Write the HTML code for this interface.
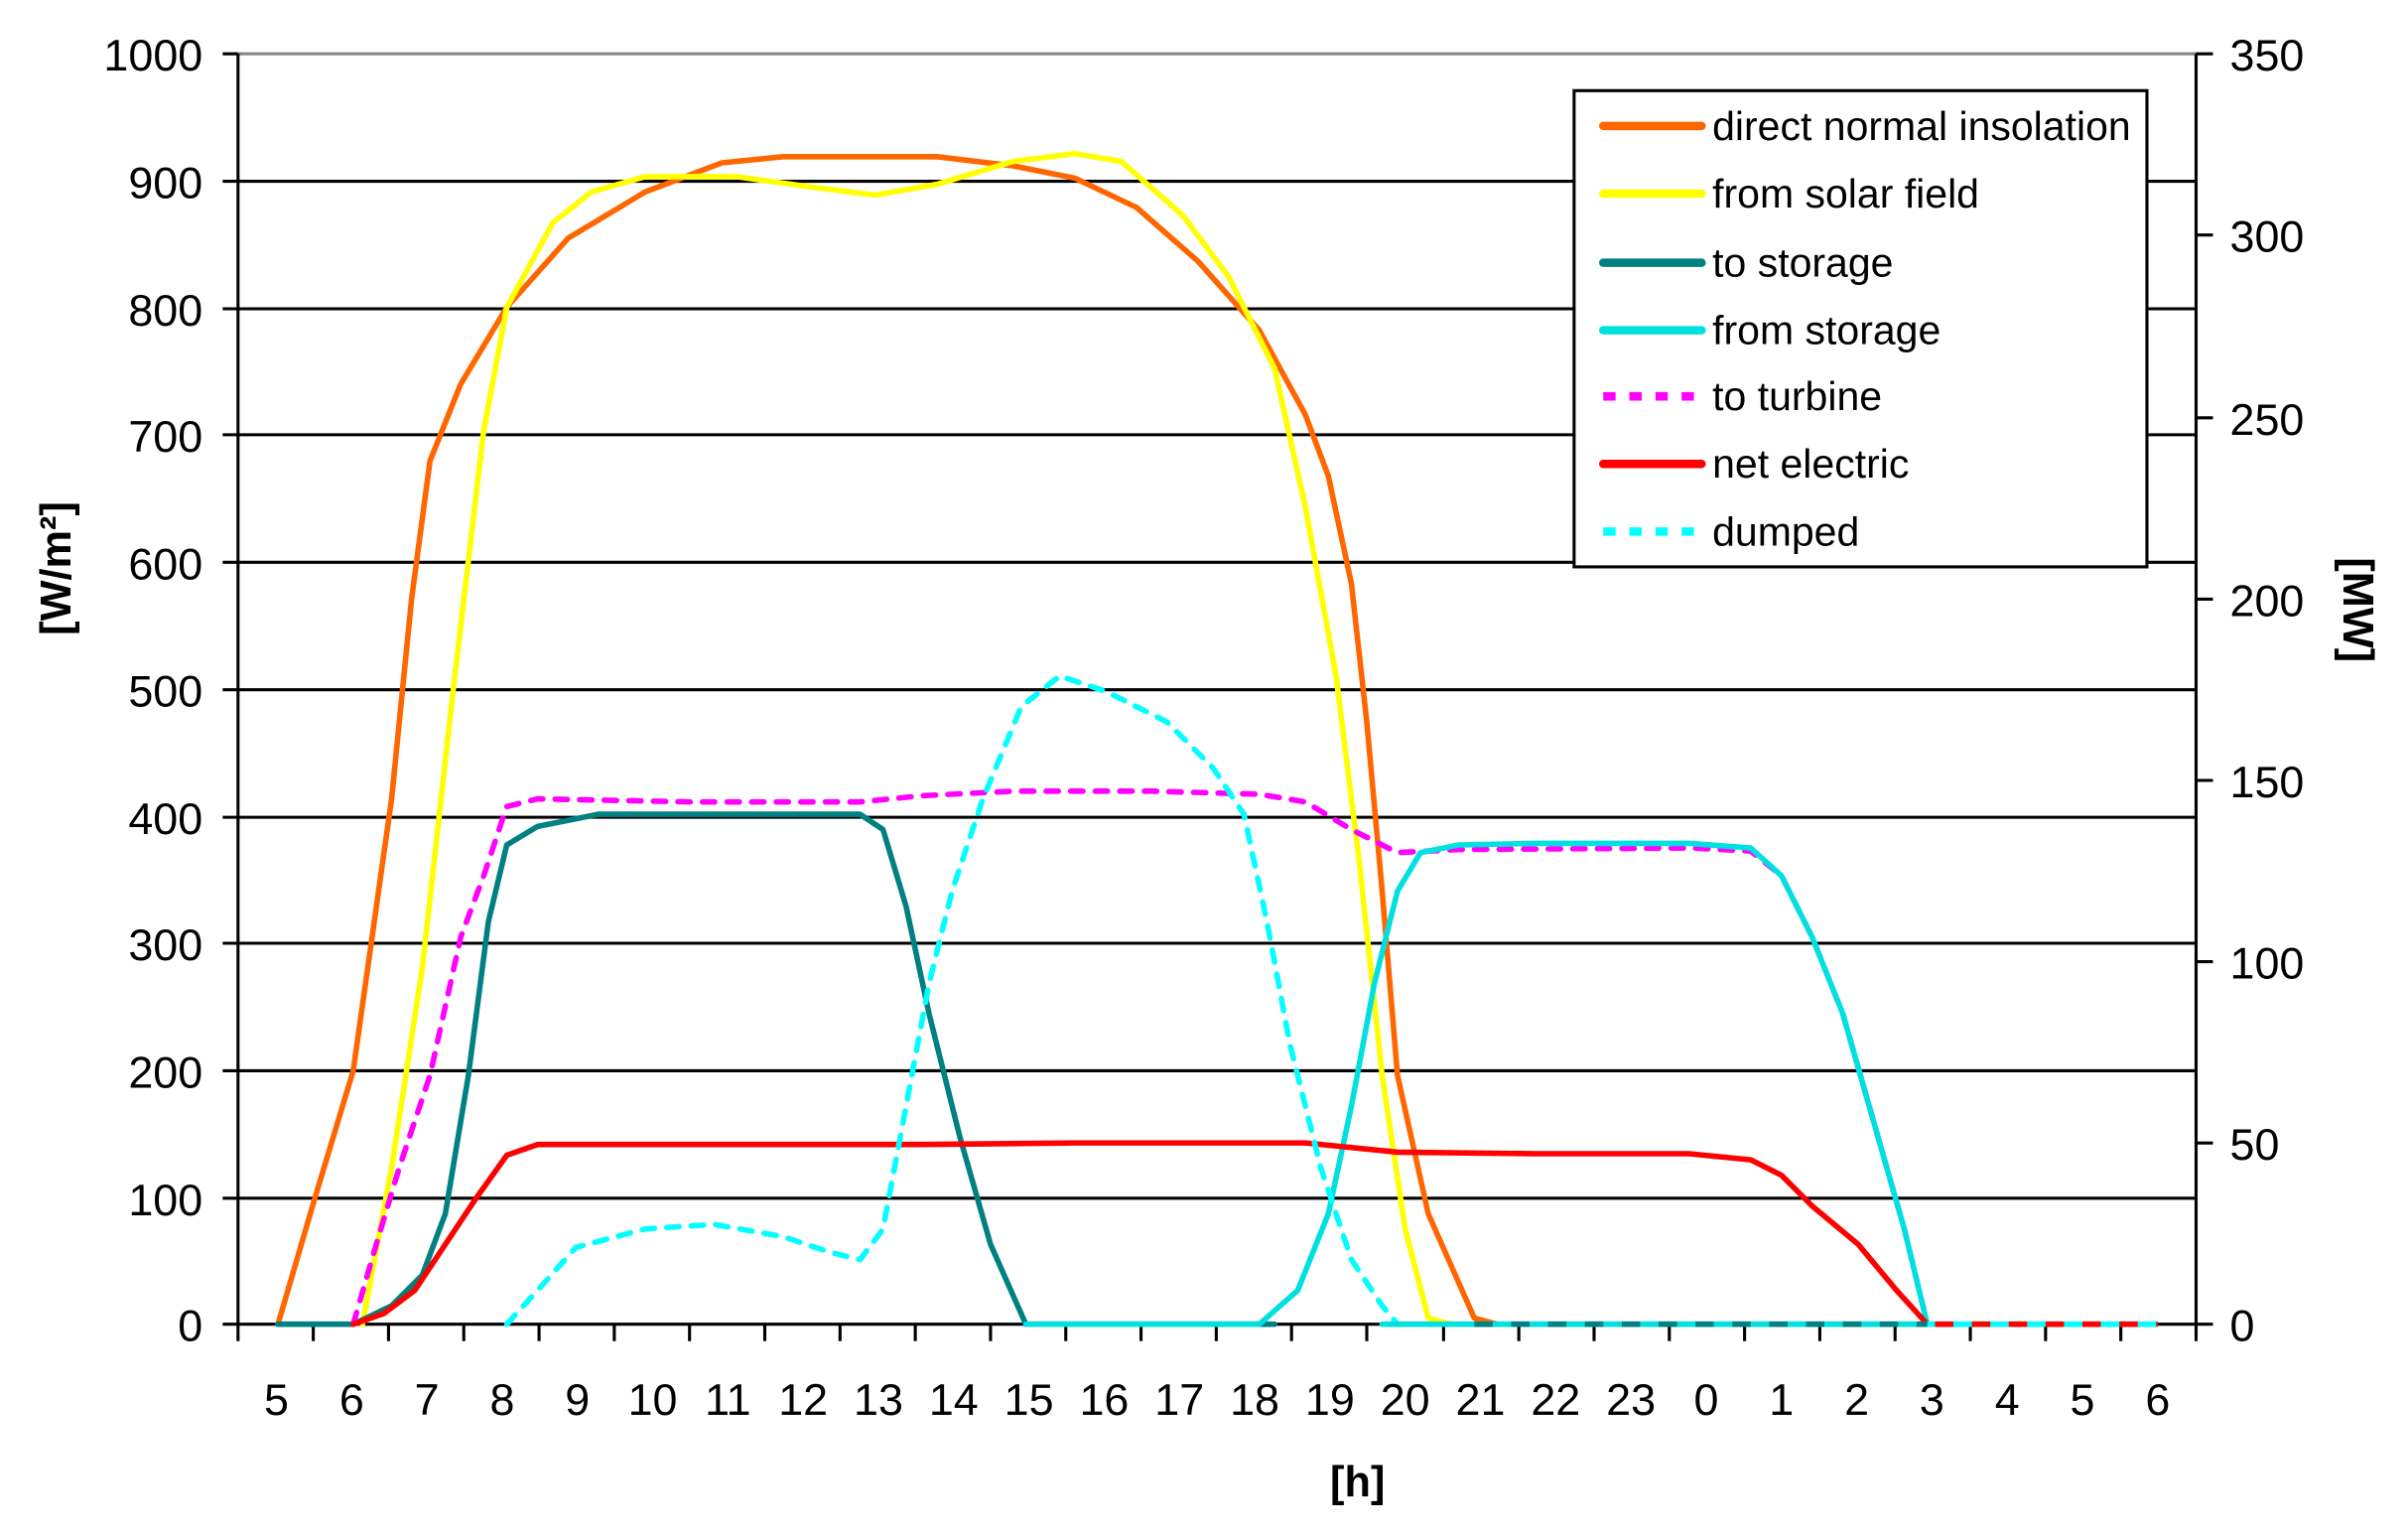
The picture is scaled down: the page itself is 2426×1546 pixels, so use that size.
<!DOCTYPE html>
<html><head><meta charset="utf-8"><style>html,body{margin:0;padding:0;background:#fff}svg{display:block}</style></head>
<body>
<svg width="2426" height="1546" viewBox="0 0 1568 999.2" preserveAspectRatio="none" xmlns="http://www.w3.org/2000/svg" font-family="Liberation Sans, Arial, sans-serif">
<rect width="1568" height="1000" fill="#fff"/>
<line x1="155" y1="35" x2="1430" y2="35" stroke="#888" stroke-width="2"/>
<g stroke="#000" stroke-width="2">
<line x1="155" y1="118" x2="1430" y2="118"/><line x1="155" y1="201" x2="1430" y2="201"/>
<line x1="155" y1="283" x2="1430" y2="283"/><line x1="155" y1="366" x2="1430" y2="366"/>
<line x1="155" y1="449" x2="1430" y2="449"/><line x1="155" y1="532" x2="1430" y2="532"/>
<line x1="155" y1="614" x2="1430" y2="614"/><line x1="155" y1="697" x2="1430" y2="697"/>
<line x1="155" y1="780" x2="1430" y2="780"/><line x1="155" y1="862" x2="1430" y2="862"/>
<line x1="155" y1="35" x2="155" y2="862"/><line x1="1430" y1="35" x2="1430" y2="862"/>
<path d="M145 35H155M145 118H155M145 201H155M145 283H155M145 366H155M145 449H155M145 532H155M145 614H155M145 697H155M145 780H155M145 862H155"/>
<path d="M1430 35H1441M1430 153H1441M1430 272H1441M1430 390H1441M1430 508H1441M1430 626H1441M1430 744H1441M1430 862H1441"/>
<path d="M155 862V873M204 862V873M253 862V873M302 862V873M351 862V873M400 862V873M449 862V873M498 862V873M547 862V873M596 862V873M645 862V873M694 862V873M743 862V873M792 862V873M841 862V873M890 862V873M940 862V873M989 862V873M1038 862V873M1087 862V873M1136 862V873M1185 862V873M1234 862V873M1283 862V873M1332 862V873M1381 862V873M1430 862V873"/>
</g>
<g font-size="29" fill="#000" text-anchor="end">
<text x="132" y="46">1000</text><text x="132" y="129">900</text><text x="132" y="212">800</text><text x="132" y="294">700</text><text x="132" y="377">600</text><text x="132" y="460">500</text><text x="132" y="543">400</text><text x="132" y="625">300</text><text x="132" y="708">200</text><text x="132" y="791">100</text><text x="132" y="873">0</text>
</g>
<g font-size="29" fill="#000" text-anchor="start">
<text x="1452" y="46">350</text><text x="1452" y="164">300</text><text x="1452" y="283">250</text><text x="1452" y="401">200</text><text x="1452" y="519">150</text><text x="1452" y="637">100</text><text x="1452" y="755">50</text><text x="1452" y="873">0</text>
</g>
<g font-size="29" fill="#000" text-anchor="middle">
<text x="180" y="921">5</text><text x="229" y="921">6</text><text x="278" y="921">7</text><text x="327" y="921">8</text><text x="376" y="921">9</text><text x="425" y="921">10</text><text x="474" y="921">11</text><text x="523" y="921">12</text><text x="572" y="921">13</text><text x="621" y="921">14</text><text x="670" y="921">15</text><text x="719" y="921">16</text><text x="768" y="921">17</text><text x="817" y="921">18</text><text x="866" y="921">19</text><text x="915" y="921">20</text><text x="964" y="921">21</text><text x="1013" y="921">22</text><text x="1062" y="921">23</text><text x="1111" y="921">0</text><text x="1160" y="921">1</text><text x="1209" y="921">2</text><text x="1258" y="921">3</text><text x="1307" y="921">4</text><text x="1356" y="921">5</text><text x="1405" y="921">6</text>
</g>
<text x="884" y="974" font-size="28" font-weight="bold" text-anchor="middle">[h]</text>
<text transform="translate(46,370) rotate(-90)" font-size="28" font-weight="bold" text-anchor="middle">[W/m²]</text>
<text transform="translate(1526,397) rotate(90)" font-size="28" font-weight="bold" text-anchor="middle">[MW]</text>
<g fill="none" stroke-width="3.6" stroke-linejoin="round" stroke-linecap="round">
<polyline stroke="#FF6600" points="181,862 205,780 230,697 255,520 268,390 280,300 300,250 330,200 370,155 420,125 470,106 510,102 610,102 660,108 700,116 740,135 780,170 820,215 850,270 865,310 880,380 890,470 900,580 910,700 930,790 960,858 975,862"/>
<polyline stroke="#FFFF00" points="236,862 255,760 275,630 295,450 315,280 330,200 360,145 385,125 420,115 480,115 530,122 570,127 610,120 660,105 700,100 730,105 770,140 800,180 830,240 850,330 870,440 885,560 900,700 915,800 930,858 945,862"/>
<polyline stroke="#008080" points="181,862 230,862 255,850 275,830 290,790 305,700 318,600 330,550 350,538 390,530 560,530 575,540 590,590 605,660 625,740 645,810 668,862 830,862"/>
<polyline stroke="#FF00FF" stroke-dasharray="8,8" points="230,862 245,810 260,760 280,700 300,610 315,570 330,525 350,520 400,521 450,522 560,522 600,518 660,515 750,515 820,517 850,522 880,540 910,555 950,553 1100,552 1140,554 1160,570 1180,610 1200,660 1220,730 1240,800 1255,862"/>
<polyline stroke="#00E0E0" points="668,862 820,862 845,840 865,790 880,720 895,640 910,580 925,555 950,550 1000,549 1100,549 1140,552 1160,570 1180,610 1200,660 1220,730 1240,800 1255,862"/>
<polyline stroke="#FF0000" points="230,862 250,855 270,840 290,810 310,780 330,752 350,745 400,745 600,745 700,744 850,744 880,747 910,750 1000,751 1100,751 1140,755 1160,765 1180,785 1210,810 1235,840 1255,862"/>
<polyline stroke="#00FFFF" stroke-dasharray="8,8" points="330,862 350,840 375,812 420,800 465,797 510,805 540,815 560,820 575,800 590,720 605,640 620,580 640,520 665,460 690,440 720,450 760,470 790,500 810,530 825,600 840,680 860,760 880,820 900,850 910,862"/>
<line x1="900" y1="862" x2="1255" y2="862" stroke="#00E0E0"/>
<line x1="960" y1="862" x2="1255" y2="862" stroke="#008080" stroke-dasharray="12,12" stroke-linecap="butt"/>
<line x1="1255" y1="862" x2="1405" y2="862" stroke="#00FFFF" stroke-linecap="butt"/>
<line x1="1260" y1="862" x2="1405" y2="862" stroke="#FF0000" stroke-dasharray="12,12" stroke-linecap="butt"/>
</g>
<rect x="1025" y="59" width="373" height="310" fill="#fff" stroke="#000" stroke-width="2"/>
<g stroke-width="5.5" stroke-linecap="round">
<line x1="1044" y1="82" x2="1108" y2="82" stroke="#FF6600"/>
<line x1="1044" y1="126" x2="1108" y2="126" stroke="#FFFF00"/>
<line x1="1044" y1="171" x2="1108" y2="171" stroke="#008080"/>
<line x1="1044" y1="215" x2="1108" y2="215" stroke="#00E0E0"/>
<line x1="1044" y1="258" x2="1108" y2="258" stroke="#FF00FF" stroke-dasharray="8,9" stroke-linecap="butt"/>
<line x1="1044" y1="302" x2="1108" y2="302" stroke="#FF0000"/>
<line x1="1044" y1="346" x2="1108" y2="346" stroke="#00FFFF" stroke-dasharray="8,9" stroke-linecap="butt"/>
</g>
<g font-size="26.5" fill="#000">
<text x="1115" y="91">direct normal insolation</text>
<text x="1115" y="135">from solar field</text>
<text x="1115" y="180">to storage</text>
<text x="1115" y="224">from storage</text>
<text x="1115" y="267">to turbine</text>
<text x="1115" y="311">net electric</text>
<text x="1115" y="355">dumped</text>
</g>
</svg>
</body></html>
